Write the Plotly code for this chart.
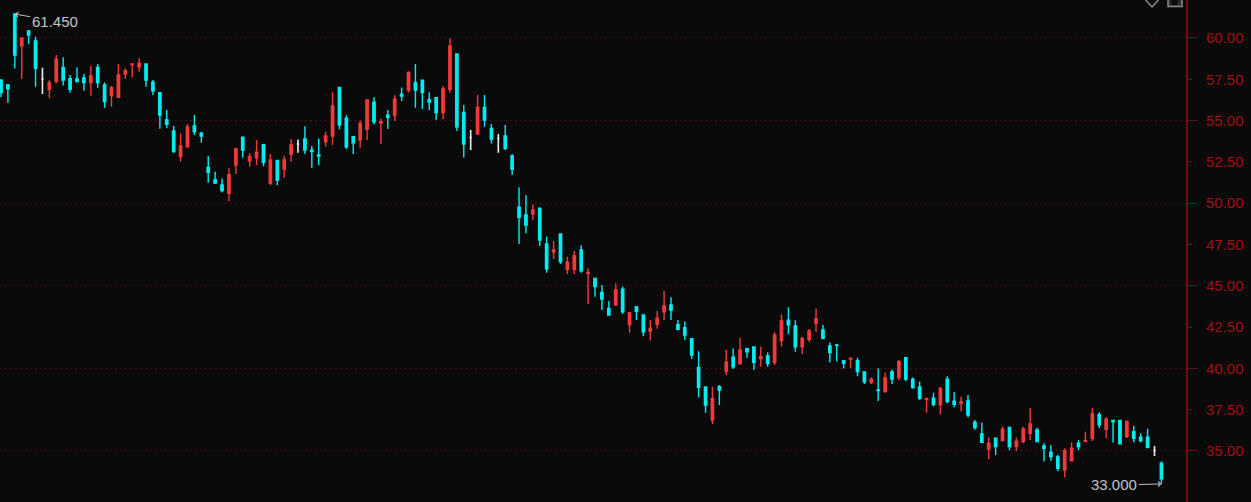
import plotly.graph_objects as go

opens = [57.46,57.15,61.45,59.52,60.42,59.82,57.50,56.89,57.40,58.20,
57.54,57.52,57.58,57.30,58.22,57.15,56.51,56.41,57.82,58.39,
58.26,58.43,57.32,56.69,55.04,54.37,52.82,53.42,54.67,54.23,
52.17,51.40,51.10,50.60,52.31,53.99,52.57,52.75,53.54,51.20,
52.59,52.07,52.98,53.58,53.89,53.20,52.92,53.72,54.07,57.01,
55.13,54.03,53.82,54.47,56.12,54.85,55.33,55.33,56.59,56.85,
57.29,57.44,56.27,56.39,55.48,56.89,59.03,55.50,53.98,54.19,
55.80,54.53,53.92,54.07,52.86,49.75,49.29,49.35,49.69,47.53,
47.05,48.14,46.00,46.00,47.17,45.75,45.45,44.60,43.62,43.84,
44.79,42.63,43.72,43.23,42.26,42.67,43.43,43.84,42.65,42.46,
41.80,40.06,38.87,36.87,38.89,39.84,40.67,40.27,41.19,41.29,
40.59,40.75,40.35,41.68,42.91,42.57,41.31,41.76,42.73,42.33,
41.36,41.42,40.47,40.57,40.47,39.79,39.14,38.70,38.60,39.79,
39.44,40.65,39.34,38.88,38.11,38.19,37.79,39.34,38.01,37.89,
38.03,36.72,36.03,35.12,35.77,35.63,36.42,35.27,35.57,36.07,
36.27,35.30,34.92,34.64,33.85,34.40,35.47,35.59,35.77,37.20,
36.31,36.84,36.84,35.87,36.17,35.83,35.83,35.02,34.26]

highs = [57.46,57.21,61.45,60.04,60.48,60.08,58.20,57.46,58.97,58.83,
57.76,58.22,57.82,58.30,58.43,57.30,57.09,58.43,58.16,58.47,
58.77,58.45,57.46,56.71,55.64,54.67,54.23,54.79,55.34,54.31,
52.86,51.91,51.50,52.15,53.30,53.99,53.02,53.82,53.58,52.98,
52.61,52.86,53.89,53.86,54.65,53.46,53.92,54.33,56.71,57.01,
55.33,54.07,55.00,56.29,56.41,55.13,55.64,56.55,57.01,57.98,
58.42,57.46,56.71,56.41,57.09,59.98,59.03,55.94,54.43,56.55,
56.55,54.79,54.19,54.73,52.98,50.96,50.50,49.93,49.73,47.97,
47.71,48.16,46.76,47.11,47.45,46.06,45.49,45.05,44.08,45.15,
44.95,43.37,43.78,43.25,42.93,43.47,44.68,44.30,42.93,42.83,
41.82,41.03,38.89,38.89,38.99,41.11,41.21,41.86,41.25,41.33,
41.31,40.97,42.18,43.27,43.70,42.91,41.92,42.38,43.62,42.63,
41.56,41.48,40.51,40.65,40.65,39.83,39.44,39.99,39.75,39.91,
40.51,40.67,39.44,39.20,38.23,38.53,38.86,39.52,38.55,38.29,
38.39,36.88,36.72,35.81,35.81,36.48,36.44,35.81,36.47,37.58,
36.41,35.47,35.36,34.76,35.16,35.53,35.65,36.17,37.58,37.34,
37.04,36.88,36.88,36.84,36.52,36.07,36.35,35.30,34.36]

lows = [56.41,56.08,58.16,57.52,59.62,57.05,56.61,56.35,57.25,57.13,
56.69,57.30,56.81,56.51,56.99,55.78,55.84,56.39,57.52,57.62,
57.96,57.05,56.55,54.51,54.53,53.06,52.51,53.38,54.13,53.66,
51.24,51.16,50.64,50.11,51.77,52.75,52.21,52.29,52.23,51.08,
51.08,51.54,52.51,53.06,52.98,52.15,52.29,53.42,53.52,54.47,
53.28,52.98,53.36,53.82,54.77,53.58,54.49,54.97,56.18,56.69,
55.78,55.72,55.64,55.04,55.08,56.69,54.37,52.77,53.22,54.19,
54.63,53.62,53.06,53.22,51.71,47.53,48.18,48.98,47.41,45.79,
46.62,46.32,45.71,45.71,45.79,43.90,44.34,43.53,43.19,43.82,
43.29,42.16,42.93,41.96,41.68,42.40,42.93,42.93,42.30,41.72,
40.57,38.23,37.32,36.63,37.78,39.60,39.96,40.25,40.65,39.90,
40.10,40.10,40.20,41.31,42.08,41.01,40.87,41.60,42.22,41.76,
40.35,40.41,39.99,40.01,39.52,39.06,39.06,38.03,38.53,39.06,
39.30,39.22,38.76,38.09,37.32,37.71,37.22,37.89,37.65,37.40,
37.04,36.29,35.51,34.50,34.76,35.57,35.04,35.00,35.47,35.67,
35.55,34.36,34.40,33.79,33.41,34.36,35.04,35.53,35.61,36.37,
35.77,35.51,35.39,35.77,35.53,35.53,35.18,34.70,33.00]

closes = [56.69,56.93,58.97,59.98,60.18,58.16,57.50,57.30,58.71,57.46,
56.89,57.36,57.30,57.70,57.30,56.15,56.99,57.76,58.02,58.43,
58.47,57.46,56.81,55.34,54.77,53.12,53.46,54.61,54.33,54.07,
51.87,51.22,50.76,51.73,53.30,53.22,52.82,53.08,52.47,52.61,
51.40,52.61,53.52,53.58,53.22,53.14,52.85,54.07,55.88,54.73,
53.42,53.66,54.83,56.25,54.93,54.93,55.20,56.29,56.49,57.92,
56.85,56.69,56.12,55.48,56.91,59.52,54.63,53.58,53.98,55.80,
55.03,53.88,53.92,53.32,52.05,49.14,48.68,49.59,47.77,46.02,
47.17,46.46,46.42,46.80,45.90,45.81,44.95,44.20,43.23,44.75,
43.43,43.37,43.45,42.22,42.42,43.03,43.78,43.53,42.36,42.02,
40.81,38.85,37.78,38.17,38.69,40.37,40.10,41.11,41.01,40.37,
40.71,40.31,42.02,42.87,42.63,41.31,41.80,42.26,42.99,41.82,
40.96,41.38,40.31,40.61,39.81,39.18,39.34,38.66,39.42,39.36,
40.41,39.36,38.84,38.19,38.17,37.81,38.80,37.99,37.83,37.97,
37.18,36.42,35.53,35.47,35.27,36.31,35.27,35.59,36.33,36.64,
35.57,35.16,34.66,33.95,35.02,35.16,35.26,35.63,37.24,36.58,
36.92,36.78,35.43,36.78,35.77,35.61,35.20,35.02,33.31]

grid_levels = [35, 40, 45, 50, 55, 60]
tick_values = [35, 37.5, 40, 42.5, 45, 47.5, 50, 52.5, 55, 57.5, 60]
tick_labels = ["35.00", "37.50", "40.00", "42.50", "45.00", "47.50",
               "50.00", "52.50", "55.00", "57.50", "60.00"]

RED = "#f23a3a"
CYAN = "#00eef2"
WHITE = "#ececec"
BG = "#0a0a0b"
AXIS = "#6e0f12"
LABEL = "#a30f12"
W, H = 1251, 502
PLOT_R = 1186.5


def subset(test):
    idx = [i for i in range(len(opens)) if test(opens[i], closes[i])]
    return dict(
        x=idx,
        open=[opens[i] for i in idx],
        high=[highs[i] for i in idx],
        low=[lows[i] for i in idx],
        close=[closes[i] for i in idx],
    )


def candle(data, color, width):
    side = dict(line=dict(color=color, width=width), fillcolor=color)
    return go.Candlestick(**data, increasing=side, decreasing=side,
                          whiskerwidth=0, showlegend=False)


fig = go.Figure()
fig.add_trace(candle(subset(lambda o, c: c > o), RED, 1.4))
fig.add_trace(candle(subset(lambda o, c: c < o), CYAN, 1.4))
fig.add_trace(candle(subset(lambda o, c: c == o), WHITE, 1.6))


def px(x):
    return x / PLOT_R


def py(y):
    return 1 - y / H


note_font = dict(family="Liberation Sans, Arial, sans-serif", size=15, color="#c4c4c4")
first_hi = highs.index(max(highs))
last_lo = lows.index(min(lows))
fig.add_annotation(x=first_hi, y=max(highs), text=f"{max(highs):.3f}", font=note_font,
                   showarrow=True, ax=40, ay=7, arrowcolor="#c4c4c4", arrowwidth=1,
                   arrowhead=4, arrowsize=1, standoff=0)
fig.add_annotation(x=last_lo, y=min(lows), text=f"{min(lows):.3f}", font=note_font,
                   showarrow=True, ax=-47, ay=1, arrowcolor="#c4c4c4", arrowwidth=1,
                   arrowhead=4, arrowsize=1, standoff=0)

icon = dict(color="#8c8c8c", width=1.5)
fig.add_shape(type="path", xref="paper", yref="paper", line=icon,
              path=f"M {px(1146)} {py(0)} L {px(1152.5)} {py(7)} L {px(1159)} {py(0)}")
fig.add_shape(type="path", xref="paper", yref="paper", line=icon, fillcolor="#2a2a2a",
              path=f"M {px(1168.5)} {py(0)} L {px(1168.5)} {py(6.5)} L {px(1182.5)} {py(6.5)} L {px(1182.5)} {py(0)}")
fig.add_shape(type="rect", xref="paper", yref="paper", line=dict(width=0), fillcolor="#0a0a0b",
              x0=px(1172), x1=px(1178), y0=py(5), y1=py(0))

fig.update_layout(
    width=W, height=H,
    margin=dict(l=0, r=W - PLOT_R, t=0, b=0, autoexpand=False),
    paper_bgcolor=BG, plot_bgcolor=BG,
    boxgap=0.52, boxmode="overlay",
    showlegend=False,
    xaxis=dict(visible=False, range=[-0.145, 171.56], rangeslider=dict(visible=False)),
    yaxis=dict(
        side="right", range=[31.91, 62.30], showgrid=False, zeroline=False,
        showline=True, linecolor=AXIS, linewidth=2,
        ticks="outside", ticklen=4, tickwidth=1, tickcolor=AXIS,
        tickmode="array", tickvals=tick_values, ticktext=tick_labels,
        tickfont=dict(family="Liberation Sans, Arial, sans-serif", size=15, color=LABEL),
        ticklabelstandoff=11,
        minor=dict(tickmode="array", tickvals=grid_levels, ticks="outside", ticklen=9,
                   tickwidth=1, tickcolor=AXIS, showgrid=True, gridcolor="#4a1315",
                   griddash="2px,3px", gridwidth=1),
    ),
)

fig.write_html(
    "out.html",
    config=dict(displayModeBar=False),
    post_script="document.body.style.margin='0';document.body.style.overflow='hidden';",
)
